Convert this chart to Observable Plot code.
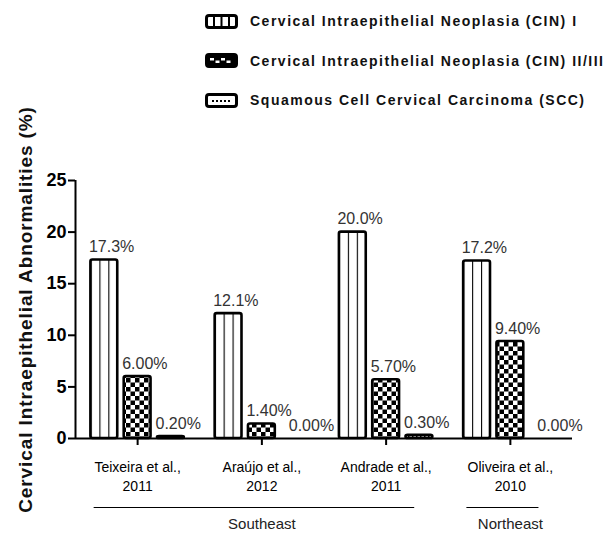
<!DOCTYPE html>
<html>
<head>
<meta charset="utf-8">
<script src="https://cdn.jsdelivr.net/npm/d3@7"></script>
<script src="https://cdn.jsdelivr.net/npm/@observablehq/plot@0.6"></script>
<style>
  body { margin: 0; background: #fff; }
  #chart { position: relative; width: 608px; height: 534px; font-family: "Liberation Sans", Arial, sans-serif; }
  #legend { position: absolute; left: 205px; top: 0px; }
  .lrow { position: absolute; left: 0; height: 40px; display: flex; align-items: center; white-space: nowrap; }
  .lrow svg { width: 33px; height: 15px; margin-right: 12px; }
  .lrow span { font-size: 14px; font-weight: bold; letter-spacing: 1.5px; color: #111; }
</style>
</head>
<body>
<div id="chart"><div id="legend"></div></div>
<script>
// ---- data ----
const groups = ["Teixeira et al.,\n2011", "Araújo et al.,\n2012", "Andrade et al.,\n2011", "Oliveira et al.,\n2010"];
const series = [
  "Cervical Intraepithelial Neoplasia (CIN) I",
  "Cervical Intraepithelial Neoplasia (CIN) II/III",
  "Squamous Cell Cervical Carcinoma (SCC)"
];
const cin1 = [17.3, 12.1, 20.0, 17.2];
const cin23 = [6.00, 1.40, 5.70, 9.40];
const scc = [0.20, 0.00, 0.30, 0.00];
const labelDigits = [1, 2, 2];
const yTicks = [0, 5, 10, 15, 20, 25];
const yTitle = "Cervical Intraepithelial Abnormalities (%)";
const regions = ["Southeast", "Northeast"];
const regionFirst = [0, 3];
const regionLast = [2, 3];

// ---- layout constants ----
const STEP = 0.268, HALF = 0.108;
const xDomain = [-0.5, groups.length - 0.5];
const patternIds = ["pat-cin1", "pat-cin23", "pat-scc"];

const values = [cin1, cin23, scc];
const rows = [];
groups.forEach((g, gi) => {
  values.forEach((arr, si) => {
    const c = gi + (si - 1) * STEP;
    rows.push({gi, si, value: arr[gi], x1: c - HALF, x2: c + HALF,
      label: arr[gi].toFixed(labelDigits[si]) + "%"});
  });
});
const regionRows = regions.map((name, i) => ({
  name, x1: regionFirst[i] - 0.35, x2: regionLast[i] + 0.23, mid: (regionFirst[i] + regionLast[i]) / 2
}));

const plot = Plot.plot({
  width: 608, height: 534,
  marginTop: 180, marginBottom: 96, marginLeft: 75, marginRight: 36,
  x: {domain: xDomain, axis: null},
  y: {domain: [0, 25], axis: null},
  color: {type: "identity"},
  style: {fontFamily: "'Liberation Sans', Arial, sans-serif", color: "#000", background: "#fff"},
  marks: [
    Plot.rect(rows.filter(d => d.value > 0), {
      x1: "x1", x2: "x2", y1: () => 0, y2: "value",
      fill: d => `url(#${patternIds[d.si]})`, stroke: "#000", strokeWidth: 2.6, rx: 2
    }),
    Plot.ruleX([xDomain[0]], {stroke: "#000", strokeWidth: 2}),
    Plot.ruleY([0], {stroke: "#000", strokeWidth: 2}),
    Plot.axisY({ticks: yTicks, tickSize: 7, tickPadding: 2, strokeWidth: 2, fontSize: 18, fontWeight: "bold", label: null}),
    Plot.axisX({ticks: groups.map((_, i) => i), tickFormat: i => groups[i], tickSize: 7, tickPadding: 14,
      strokeWidth: 2, fontSize: 14, lineHeight: 1.3, label: null}),
    Plot.text(rows.filter(d => d.value > 0), {x: "x1", y: "value", text: "label", textAnchor: "start", dx: -2, dy: -13, fontSize: 16, fill: "#333"}),
    Plot.text(rows.filter(d => d.value === 0), {x: "x1", y: "value", text: "label", textAnchor: "start", dx: 7, dy: -13, fontSize: 16, fill: "#333"}),
    Plot.text([yTitle], {frameAnchor: "left", textAnchor: "middle", rotate: -90, dx: -50, fontSize: 19, fontWeight: "bold", fill: "#111"}),
    Plot.ruleY(regionRows, {y: () => 0, x1: "x1", x2: "x2", dy: 69, stroke: "#000", strokeWidth: 1.2}),
    Plot.text(regionRows, {x: "mid", y: () => 0, dy: 86, text: "name", fontSize: 15, fill: "#222"})
  ]
});

d3.select(plot).insert("defs", ":first-child").html(`
  <pattern id="pat-cin1" patternUnits="objectBoundingBox" width="0.3333" height="1">
    <rect width="100" height="1000" fill="#fff"/>
    <line x1="0" y1="0" x2="0" y2="1000" stroke="#000" stroke-width="2.2"/>
  </pattern>
  <pattern id="pat-cin23" patternUnits="userSpaceOnUse" width="9" height="9">
    <rect width="9" height="9" fill="#fff"/>
    <rect width="4.5" height="4.5" fill="#000"/>
    <rect x="4.5" y="4.5" width="4.5" height="4.5" fill="#000"/>
  </pattern>
  <pattern id="pat-scc" patternUnits="userSpaceOnUse" width="4" height="4">
    <rect width="4" height="4" fill="#fff"/>
    <rect width="1.5" height="1.5" fill="#000"/>
  </pattern>
`);
d3.select(plot).selectAll("text").filter(function() { return this.textContent === yTitle; })
  .style("letter-spacing", "0.9px");

document.getElementById("chart").appendChild(plot);

// ---- legend ----
const swatches = [
  `<rect x="1.5" y="1.5" width="30" height="12" rx="2.5" fill="#fff" stroke="#000" stroke-width="3"/>
   <line x1="9" y1="2" x2="9" y2="13" stroke="#000" stroke-width="2"/>
   <line x1="16.5" y1="2" x2="16.5" y2="13" stroke="#000" stroke-width="2"/>
   <line x1="24" y1="2" x2="24" y2="13" stroke="#000" stroke-width="2"/>`,
  `<rect x="1.5" y="1.5" width="30" height="12" rx="2.5" fill="#000" stroke="#000" stroke-width="3"/>
   <rect x="5" y="5" width="4" height="2.5" fill="#fff"/>
   <rect x="10.5" y="7.5" width="4" height="2.5" fill="#fff"/>
   <rect x="16" y="5" width="4" height="2.5" fill="#fff"/>
   <rect x="21.5" y="7.5" width="4" height="2.5" fill="#fff"/>`,
  `<rect x="1.5" y="1.5" width="30" height="12" rx="2.5" fill="#fff" stroke="#000" stroke-width="3"/>
   <rect x="7" y="7" width="2" height="2" fill="#000"/>
   <rect x="11" y="7" width="2" height="2" fill="#000"/>
   <rect x="15" y="7" width="2" height="2" fill="#000"/>
   <rect x="19" y="7" width="2" height="2" fill="#000"/>
   <rect x="23" y="7" width="2" height="2" fill="#000"/>`
];
const legend = d3.select("#legend");
series.forEach((s, i) => {
  const row = legend.append("div").attr("class", "lrow").style("top", (1 + i * 39.5) + "px");
  row.append("svg").attr("viewBox", "0 0 33 15").html(swatches[i]);
  row.append("span").text(s);
});
</script>
</body>
</html>
